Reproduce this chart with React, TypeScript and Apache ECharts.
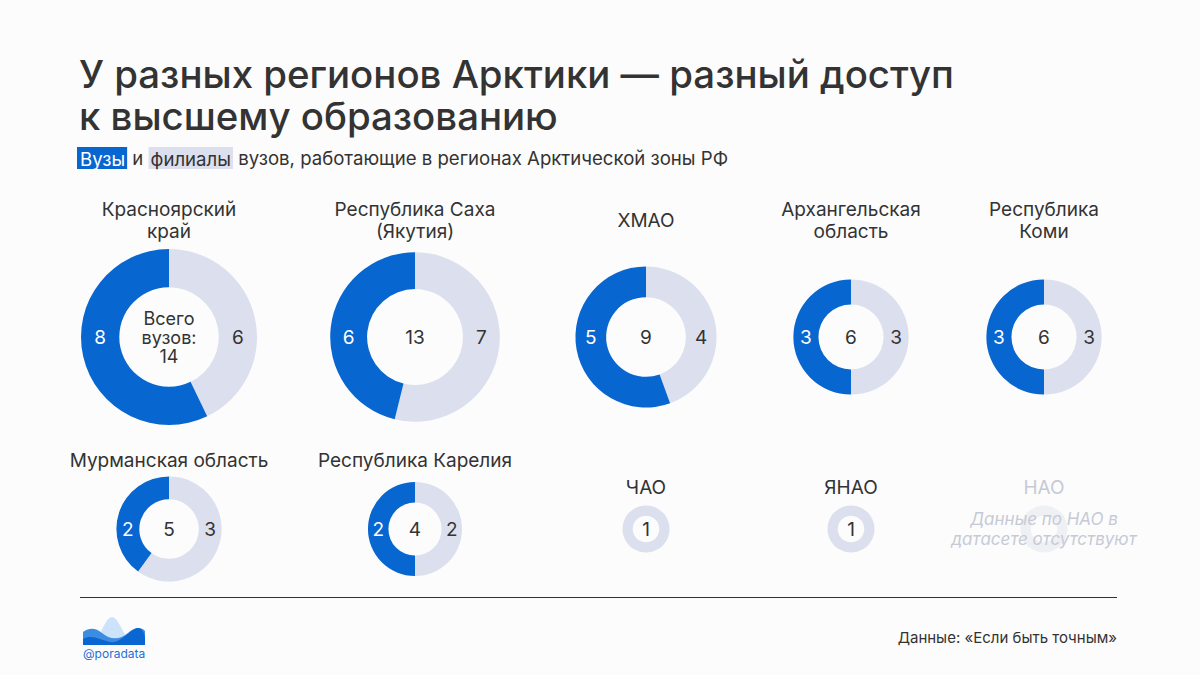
import React, { useEffect, useRef } from "react";
import * as echarts from "echarts";

// Regions of the Arctic zone and their higher-education institutions
const regions = [
  "Красноярский\nкрай",
  "Республика Саха\n(Якутия)",
  "ХМАО",
  "Архангельская\nобласть",
  "Республика\nКоми",
  "Мурманская область",
  "Республика Карелия",
  "ЧАО",
  "ЯНАО",
];
// Universities (head institutions)
const universities = [8, 6, 5, 3, 3, 2, 2, 0, 0];
// Branches of universities
const branches = [6, 7, 4, 3, 3, 3, 2, 1, 1];

const missingRegion = "НАО";
const missingNote = "Данные по НАО в\nдатасете отсутствуют";

const titleText = "У разных регионов Арктики — разный доступ\nк высшему образованию";
const sourceText = "Данные: «Если быть точным»";
const brandText = "@poradata";

// Layout
const colX = [169, 415, 646, 851, 1044];
const rowY = [337, 529];
const maxRadius = 88;
const innerRatio = 0.565;
const labelY = [220, 220, 220, 220, 220, 460, 460, 487, 487];

const BLUE = "#0866d0";
const GREY = "#dce0ee";
const TEXT = "#333333";
const FAINT = "#c6cad6";
const FONT = "Inter, 'Noto Sans', sans-serif";

const logoBack =
  "M90 645 C100 641 104 618 112 617 C120 618 124 641 136 645 Z";
const logoMid =
  "M83 645 L83 632 C90 627 96 628 102 633 C110 640 120 640 128 633 C134 628 140 626 145 631 L145 645 Z";
const logoFront =
  "M83 645 L83 639 C92 634 100 640 110 642 C120 644 128 631 137 628 C142 627 145 633 145 639 L145 645 Z";

export default function App() {
  const ref = useRef<HTMLDivElement>(null);

  useEffect(() => {
    if (!ref.current) return;
    echarts.graphic.registerShape("logoBack", echarts.graphic.extendPath(logoBack, {}));
    echarts.graphic.registerShape("logoMid", echarts.graphic.extendPath(logoMid, {}));
    echarts.graphic.registerShape("logoFront", echarts.graphic.extendPath(logoFront, {}));

    const chart = echarts.init(ref.current, undefined, { renderer: "svg" });
    const totals = universities.map((u, i) => u + branches[i]);
    const maxTotal = Math.max(...totals);

    const series: any[] = [];
    const graphics: any[] = [];

    regions.forEach((name, i) => {
      const cx = colX[i % 5];
      const cy = rowY[i < 5 ? 0 : 1];
      const r = maxRadius * Math.sqrt(totals[i] / maxTotal);
      const r0 = r * innerRatio;
      const mid = (r + r0) / 2;
      const showSlices = universities[i] > 0;

      series.push({
        type: "pie",
        name,
        center: [cx, cy],
        radius: [r0, r],
        startAngle: 90,
        clockwise: true,
        silent: true,
        avoidLabelOverlap: false,
        label: {
          show: showSlices,
          position: "inside",
          formatter: "{c}",
          fontFamily: FONT,
          fontSize: 19,
        },
        labelLine: { show: false },
        labelLayout: (p: any) => ({
          x: p.dataIndex === 0 ? cx + mid : cx - mid,
          y: cy,
          align: "center",
          verticalAlign: "middle",
        }),
        data: [
          {
            name: "филиалы",
            value: branches[i],
            itemStyle: { color: GREY },
            label: { color: TEXT },
          },
          {
            name: "вузы",
            value: universities[i],
            itemStyle: { color: BLUE },
            label: { color: "#ffffff" },
          },
        ],
      });

      graphics.push({
        type: "text",
        x: cx,
        y: labelY[i],
        style: {
          text: name,
          fill: TEXT,
          font: `400 19px ${FONT}`,
          align: "center",
          verticalAlign: "middle",
          lineHeight: 22,
        },
      });

      const isFirst = i === 0;
      graphics.push({
        type: "text",
        x: cx,
        y: cy,
        style: {
          text: isFirst ? `Всего\nвузов:\n${totals[i]}` : String(totals[i]),
          fill: TEXT,
          font: `400 ${isFirst ? 18 : 19}px ${FONT}`,
          align: "center",
          verticalAlign: "middle",
          lineHeight: isFirst ? 19 : 22,
        },
      });
    });

    // Region with no data
    const nx = colX[4];
    const ny = rowY[1];
    const nr = maxRadius * Math.sqrt(1 / maxTotal);
    graphics.push(
      {
        type: "ring",
        shape: { cx: nx, cy: ny, r: nr, r0: nr * innerRatio },
        style: { fill: "#eef0f4" },
      },
      {
        type: "text",
        x: nx,
        y: 487,
        style: {
          text: missingRegion,
          fill: FAINT,
          font: `400 19px ${FONT}`,
          align: "center",
          verticalAlign: "middle",
        },
      },
      {
        type: "text",
        x: nx,
        y: 529,
        style: {
          text: missingNote,
          fill: FAINT,
          font: `italic 400 17px ${FONT}`,
          align: "center",
          verticalAlign: "middle",
          lineHeight: 20,
        },
      }
    );

    // Heading
    graphics.push(
      {
        type: "text",
        x: 79,
        y: 53,
        style: {
          text: titleText,
          fill: TEXT,
          font: `500 38.4px ${FONT}`,
          lineHeight: 42,
          verticalAlign: "top",
        },
      },
      {
        type: "text",
        x: 77,
        y: 158,
        style: {
          text: "{u|Вузы} и {b|филиалы} вузов, работающие в регионах Арктической зоны РФ",
          fill: TEXT,
          font: `400 18.6px ${FONT}`,
          verticalAlign: "middle",
          rich: {
            u: {
              backgroundColor: BLUE,
              fill: "#ffffff",
              color: "#ffffff",
              fontFamily: FONT,
              fontSize: 18.6,
              padding: [2, 2, 1, 3],
            },
            b: {
              backgroundColor: GREY,
              fill: TEXT,
              color: TEXT,
              fontFamily: FONT,
              fontSize: 18.6,
              padding: [2, 2, 1, 2],
            },
          },
        },
      }
    );

    // Footer
    graphics.push(
      {
        type: "line",
        shape: { x1: 80, y1: 597.5, x2: 1117, y2: 597.5 },
        style: { stroke: TEXT, lineWidth: 1 },
      },
      {
        type: "text",
        x: 1117,
        y: 637,
        style: {
          text: sourceText,
          fill: TEXT,
          font: `400 15px ${FONT}`,
          align: "right",
          verticalAlign: "middle",
        },
      },
      { type: "logoBack", style: { fill: "#cde3fb" } },
      { type: "logoMid", style: { fill: "#3c8ce2" } },
      { type: "logoFront", style: { fill: "#0a66d1" } },
      {
        type: "text",
        x: 83,
        y: 653,
        style: {
          text: brandText,
          fill: "#1f6fd6",
          font: `400 12px ${FONT}`,
          verticalAlign: "middle",
        },
      }
    );

    chart.setOption({
      animation: false,
      backgroundColor: "#fcfcfc",
      series,
      graphic: graphics,
    });

    return () => chart.dispose();
  }, []);

  return (
    <div
      ref={ref}
      style={{ position: "fixed", left: 0, top: 0, width: 1200, height: 675 }}
    />
  );
}
